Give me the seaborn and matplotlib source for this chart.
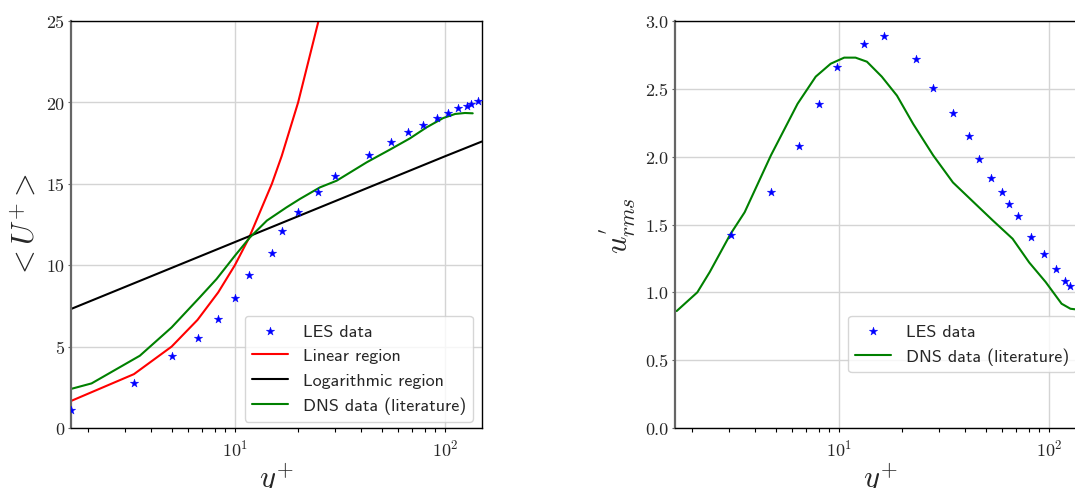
import matplotlib
matplotlib.use('Agg')
import matplotlib.pyplot as plt
import seaborn as sns

sns.set_theme(style="whitegrid")
plt.rcParams['font.family'] = 'serif'
plt.rcParams['font.serif'] = ['cmr10']
plt.rcParams['mathtext.fontset'] = 'cm'
plt.rcParams['axes.formatter.use_mathtext'] = True
plt.rcParams['axes.unicode_minus'] = False

# Mean velocity profile (left)
LES_YP = [1.66, 3.31, 5.0, 6.64, 8.33, 10.0, 11.66, 15.0, 16.7, 20.0, 25.0, 30.0,
          43.4, 55.1, 66.7, 78.3, 91.9, 103.8, 115.4, 126.8, 133.0, 144.0]
LES_U = [1.1, 2.76, 4.44, 5.5, 6.7, 8.0, 9.38, 10.75, 12.08, 13.29, 14.48, 15.48,
         16.75, 17.59, 18.16, 18.63, 19.02, 19.37, 19.66, 19.80, 19.92, 20.06]

LIN_YP = [1.66, 3.31, 5.0, 6.64, 8.33, 10.0, 11.66, 15.0, 16.7, 20.0, 25.0, 30.0]
LIN_U = [1.66, 3.31, 5.0, 6.64, 8.33, 10.0, 11.66, 15.0, 16.7, 20.0, 25.0, 30.0]

LOG_YP = [1.66, 10.0, 100.0, 150.0]
LOG_U = [7.31, 11.42, 16.69, 17.6]

DNS_YP = [1.66, 2.08, 3.53, 5.0, 6.81, 8.18, 10.0, 11.8, 14.2, 17.6, 20.4, 25.4,
          30.5, 42.4, 54.7, 68.1, 81.8, 98.1, 111.8, 124.5, 135.5]
DNS_U = [2.40, 2.74, 4.44, 6.18, 8.03, 9.15, 10.58, 11.71, 12.74, 13.55, 14.07, 14.78,
         15.19, 16.32, 17.1, 17.79, 18.47, 19.04, 19.29, 19.35, 19.33]

# Streamwise rms fluctuation (right)
LES_YP_RMS = [3.05, 4.75, 6.43, 8.07, 9.75, 13.1, 16.4, 23.2, 28.2, 34.9, 41.4, 46.5,
              53.2, 59.7, 64.7, 71.4, 82.5, 94.3, 107.6, 119.1, 126.2, 140.0]
LES_RMS = [1.42, 1.74, 2.08, 2.39, 2.66, 2.83, 2.89, 2.72, 2.505, 2.32, 2.15, 1.98,
           1.84, 1.74, 1.65, 1.565, 1.41, 1.28, 1.17, 1.08, 1.05, 1.0]

DNS_YP_RMS = [1.69, 2.12, 2.43, 3.05, 3.56, 4.75, 6.36, 7.76, 9.14, 10.6, 12.0, 13.6,
              16.0, 18.9, 22.6, 28.1, 34.9, 43.4, 54.0, 67.1, 80.5, 96.4, 114.8, 126.5,
              133.0, 145.0]
DNS_RMS = [0.862, 1.0, 1.15, 1.43, 1.59, 2.01, 2.39, 2.59, 2.685, 2.73, 2.73, 2.70,
           2.59, 2.45, 2.24, 2.01, 1.81, 1.67, 1.53, 1.395, 1.22, 1.076, 0.916, 0.879,
           0.875, 0.88]

W, H = 1075, 489
fig = plt.figure(figsize=(W / 100, H / 100), dpi=100)
ax1 = fig.add_axes([71 / W, (H - 429) / H, 411 / W, 407 / H])
ax2 = fig.add_axes([675 / W, (H - 429) / H, 411 / W, 407 / H])

leg_font = {'family': 'cmss10', 'size': 13}


def style_axes(ax):
    ax.set_xscale('log')
    ax.set_xlim(1.66, 150)
    ax.grid(True, which='major', color='#d4d4d4', linewidth=1.0)
    ax.grid(False, which='minor')
    for side in ['top', 'right', 'bottom']:
        ax.spines[side].set_color('black')
        ax.spines[side].set_linewidth(1.0)
    ax.spines['left'].set_color('#666666')
    ax.spines['left'].set_linewidth(1.6)
    ax.tick_params(axis='x', which='both', bottom=True, direction='out',
                   length=3, width=0.8, color='black', labelsize=13, pad=4)
    ax.tick_params(axis='y', which='major', left=True, length=2, width=0.8,
                   color='#666666', labelsize=13, pad=3)


# left panel
sns.scatterplot(x=LES_YP, y=LES_U, marker='*', s=40, color='blue', edgecolor='blue',
                linewidth=0.3, label='LES data', ax=ax1, zorder=3)
sns.lineplot(x=LIN_YP, y=LIN_U, color='red', linewidth=1.5, sort=False,
             estimator=None, label='Linear region', ax=ax1)
sns.lineplot(x=LOG_YP, y=LOG_U, color='black', linewidth=1.5, sort=False,
             estimator=None, label='Logarithmic region', ax=ax1)
sns.lineplot(x=DNS_YP, y=DNS_U, color='green', linewidth=1.5, sort=False,
             estimator=None, label='DNS data (literature)', ax=ax1)
style_axes(ax1)
ax1.set_ylim(0, 25)
ax1.set_yticks([0, 5, 10, 15, 20, 25])
ax1.set_yticklabels(['0', '5', '10', '15', '20', '25'])
ax1.set_xlabel(r'$y^{+}$', fontsize=22, labelpad=1)
ax1.set_ylabel(r'$<U^{+}>$', fontsize=22, labelpad=4)
ax1.legend(loc='upper left', bbox_to_anchor=(0.423, 0.276), borderaxespad=0,
           prop=leg_font, framealpha=0.8, edgecolor='#cccccc')

# right panel
sns.scatterplot(x=LES_YP_RMS, y=LES_RMS, marker='*', s=40, color='blue', edgecolor='blue',
                linewidth=0.3, label='LES data', ax=ax2, zorder=3)
sns.lineplot(x=DNS_YP_RMS, y=DNS_RMS, color='green', linewidth=1.5, sort=False,
             estimator=None, label='DNS data (literature)', ax=ax2)
style_axes(ax2)
ax2.set_ylim(0, 3.0)
ax2.set_yticks([0.0, 0.5, 1.0, 1.5, 2.0, 2.5, 3.0])
ax2.set_yticklabels(['0.0', '0.5', '1.0', '1.5', '2.0', '2.5', '3.0'])
ax2.set_xlabel(r'$y^{+}$', fontsize=22, labelpad=1)
ax2.set_ylabel(r"$u^{'}_{rms}$", fontsize=22, labelpad=4)
ax2.legend(loc='upper left', bbox_to_anchor=(0.421, 0.276), borderaxespad=0,
           prop=leg_font, framealpha=0.8, edgecolor='#cccccc')

fig.savefig('out.png', dpi=100)
